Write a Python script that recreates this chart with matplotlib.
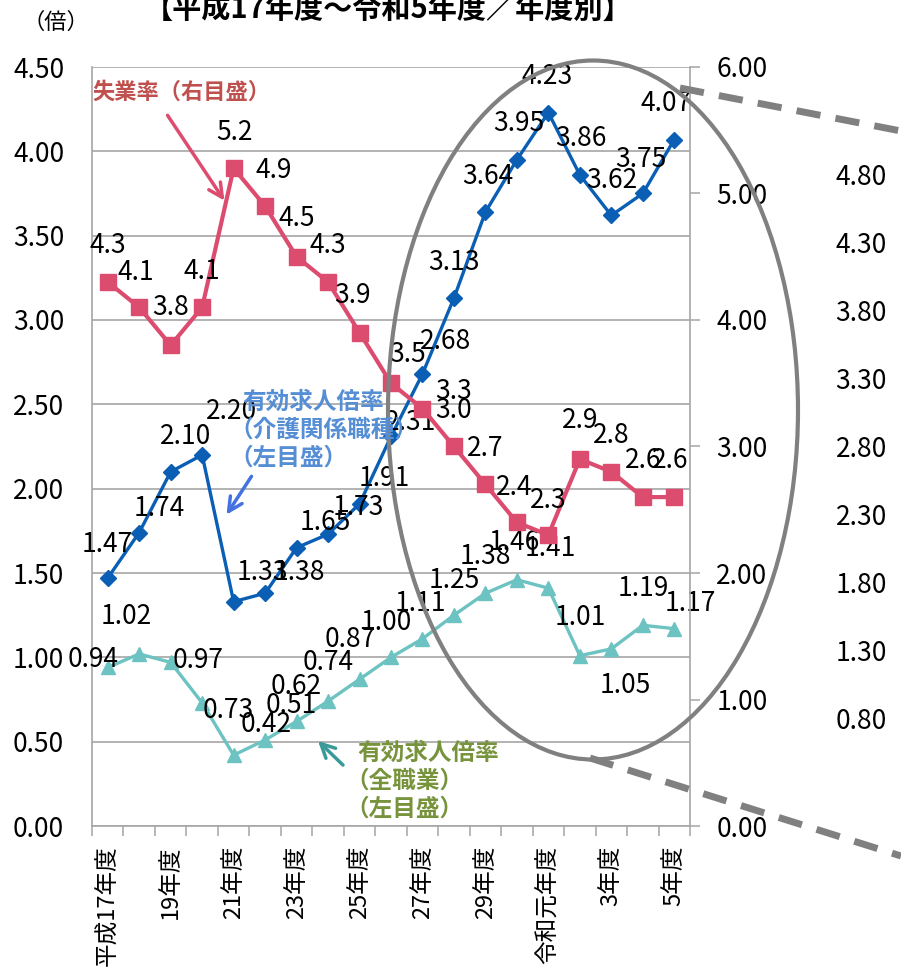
import matplotlib
matplotlib.use("Agg")
import matplotlib.pyplot as plt
from matplotlib.patches import Ellipse
import numpy as np

plt.rcParams['font.family'] = ['Noto Sans CJK JP', 'DejaVu Sans']

# data
years = ["平成17年度", "18年度", "19年度", "20年度", "21年度", "22年度", "23年度",
         "24年度", "25年度", "26年度", "27年度", "28年度", "29年度", "30年度",
         "令和元年度", "2年度", "3年度", "4年度", "5年度"]
care_ratio = [1.47, 1.74, 2.10, 2.20, 1.33, 1.38, 1.65, 1.73, 1.91, 2.31,
              2.68, 3.13, 3.64, 3.95, 4.23, 3.86, 3.62, 3.75, 4.07]
all_ratio = [0.94, 1.02, 0.97, 0.73, 0.42, 0.51, 0.62, 0.74, 0.87, 1.00,
             1.11, 1.25, 1.38, 1.46, 1.41, 1.01, 1.05, 1.19, 1.17]
unemp_rate = [4.3, 4.1, 3.8, 4.1, 5.2, 4.9, 4.5, 4.3, 3.9, 3.5,
              3.3, 3.0, 2.7, 2.4, 2.3, 2.9, 2.8, 2.6, 2.6]
left_ticks = [0.0, 0.5, 1.0, 1.5, 2.0, 2.5, 3.0, 3.5, 4.0, 4.5]
right_ticks = [0.0, 1.0, 2.0, 3.0, 4.0, 5.0, 6.0]
zoom_ticks = [0.80, 1.30, 1.80, 2.30, 2.80, 3.30, 3.80, 4.30, 4.80]

# label offsets in pixels (dx, dy downward)
care_off = [(0, -34), (20, -24), (15, -35), (29, -43), (29, -29), (34, -21), (29, -25),
            (30, -27), (25, -25), (20, -14), (23, -32), (0, -36), (2, -36), (2, -36),
            (-1, -36), (1, -36), (0, -35), (-2, -34), (-8, -36)]
all_off = [(-15, -8), (-13, -37), (27, -2), (26, 8), (33, -31), (26, -34), (0, -35),
           (0, -39), (-9, -40), (-5, -35), (-2, -35), (0, -35), (0, -37), (-3, -37),
           (2, -40), (0, -38), (14, 37), (0, -37), (16, -25)]
unemp_off = [(0, -37), (-3, -35), (0, -38), (0, -36), (1, -36), (9, -36), (0, -38),
             (0, -37), (-7, -37), (17, -29), (31, -17), (0, -36), (0, -36), (-3, -35),
             (0, -35), (0, -39), (0, -36), (0, -37), (-4, -37)]

BLUE = '#0A5FB4'
TEAL = '#6CC3C1'
RED = '#DC4C6E'
GRID = '#A6A6A6'
FS = 19

W, H = 901, 980
fig = plt.figure(figsize=(W / 100, H / 100), dpi=100)
pos = [92 / W, 1 - 826 / H, 598 / W, 759 / H]
ax = fig.add_axes(pos)
x = np.arange(len(years))

ax.set_xlim(-0.5, len(years) - 0.5)
ax.set_ylim(0, 4.5)
ax.set_yticks(left_ticks)
ax.set_yticklabels([f"{v:.2f}" for v in left_ticks])
ax.grid(axis='y', color=GRID, lw=1.2)
ax.set_axisbelow(True)
ax.tick_params(axis='y', length=0, pad=20, labelsize=FS)
ax.set_xticks(x[::2])
ax.set_xticklabels(years[::2], rotation=90, va='top', ha='center')
ax.tick_params(axis='x', length=0, pad=14, labelsize=17)
ax.set_xticks(np.arange(len(years) + 1) - 0.5, minor=True)
ax.tick_params(axis='x', which='minor', length=7, width=1.1, color=GRID)
for s in ['top', 'right']:
    ax.spines[s].set_visible(False)
for s in ['left', 'bottom']:
    ax.spines[s].set_color(GRID)
    ax.spines[s].set_linewidth(1.2)

ax.plot(x, care_ratio, color=BLUE, lw=2.4, marker='D', ms=8.5, zorder=3)
ax.plot(x, all_ratio, color=TEAL, lw=2.4, marker='^', ms=10.5, zorder=3)
for xi, v, (dx, dy) in zip(x, care_ratio, care_off):
    ax.annotate(f"{v:.2f}", (xi, v), xytext=(dx, -dy), textcoords='offset pixels',
                ha='center', va='center', fontsize=FS)
for xi, v, (dx, dy) in zip(x, all_ratio, all_off):
    ax.annotate(f"{v:.2f}", (xi, v), xytext=(dx, -dy), textcoords='offset pixels',
                ha='center', va='center', fontsize=FS)

ax2 = ax.twinx()
ax2.set_ylim(0, 6)
ax2.set_yticks(right_ticks)
ax2.set_yticklabels([f"{v:.2f}" for v in right_ticks])
ax2.tick_params(axis='y', length=7, width=1.1, color=GRID, pad=12, labelsize=FS)
for s in ['top', 'left', 'bottom']:
    ax2.spines[s].set_visible(False)
ax2.spines['right'].set_color(GRID)
ax2.spines['right'].set_linewidth(1.2)
ax2.plot(x, unemp_rate, color=RED, lw=3, marker='s', ms=11.5, zorder=3)
for xi, v, (dx, dy) in zip(x, unemp_rate, unemp_off):
    ax2.annotate(f"{v:.1f}", (xi, v), xytext=(dx, -dy), textcoords='offset pixels',
                 ha='center', va='center', fontsize=FS)

# zoomed scale at far right
ax3 = fig.add_axes([887 / W, pos[1], 0.001, pos[3]])
ax3.set_ylim(0.0132, 5.594)
ax3.set_yticks(zoom_ticks)
ax3.set_yticklabels([f"{v:.2f}" for v in zoom_ticks])
ax3.set_xticks([])
ax3.tick_params(axis='y', length=0, pad=0, labelsize=FS)
for s in ax3.spines.values():
    s.set_visible(False)
ax3.patch.set_alpha(0)

# overlay for title, notes, ellipse
ov = fig.add_axes([0, 0, 1, 1])
ov.set_xlim(0, W)
ov.set_ylim(H, 0)
ov.axis('off')
ov.patch.set_alpha(0)

ov.text(388, 9, "【平成17年度～令和5年度／年度別】", ha='center', va='center',
        fontsize=21, fontweight='bold')
ov.text(56, 22, "（倍）", ha='center', va='center', fontsize=16)

ov.add_patch(Ellipse((593, 410), 410, 699, fill=False, ec='#808080', lw=3))
ov.plot([680, 901], [88, 131], color='#808080', lw=5, ls=(0, (3.5, 2.2)))
ov.plot([590, 901], [758, 856], color='#808080', lw=5, ls=(0, (3.5, 2.2)))

ov.text(92, 92, "失業率（右目盛）", color='#C0504D', fontsize=16, fontweight='bold',
        ha='left', va='center')
ov.annotate("", xy=(226, 203), xytext=(166, 113),
            arrowprops=dict(arrowstyle='->', color=RED, lw=2.5, mutation_scale=25))

care_note = ["有効求人倍率", "（介護関係職種）", "（左目盛）"]
for i, line in enumerate(care_note):
    ov.text(242 if i == 0 else 229, 402 + 28 * i, line, color='#558ED5', fontsize=17,
            fontweight='bold', ha='left', va='center')
ov.annotate("", xy=(225, 517), xytext=(253, 474),
            arrowprops=dict(arrowstyle='->', color='#4472E0', lw=2.5, mutation_scale=25))

all_note = ["有効求人倍率", "（全職業）", "（左目盛）"]
for i, line in enumerate(all_note):
    ov.text(357 if i == 0 else 345, 753 + 28 * i, line, color='#77933C', fontsize=17,
            fontweight='bold', ha='left', va='center')
ov.annotate("", xy=(316, 739), xytext=(345, 767),
            arrowprops=dict(arrowstyle='->', color='#3A9A98', lw=2.5, mutation_scale=25))

fig.savefig("out.png", dpi=100)
